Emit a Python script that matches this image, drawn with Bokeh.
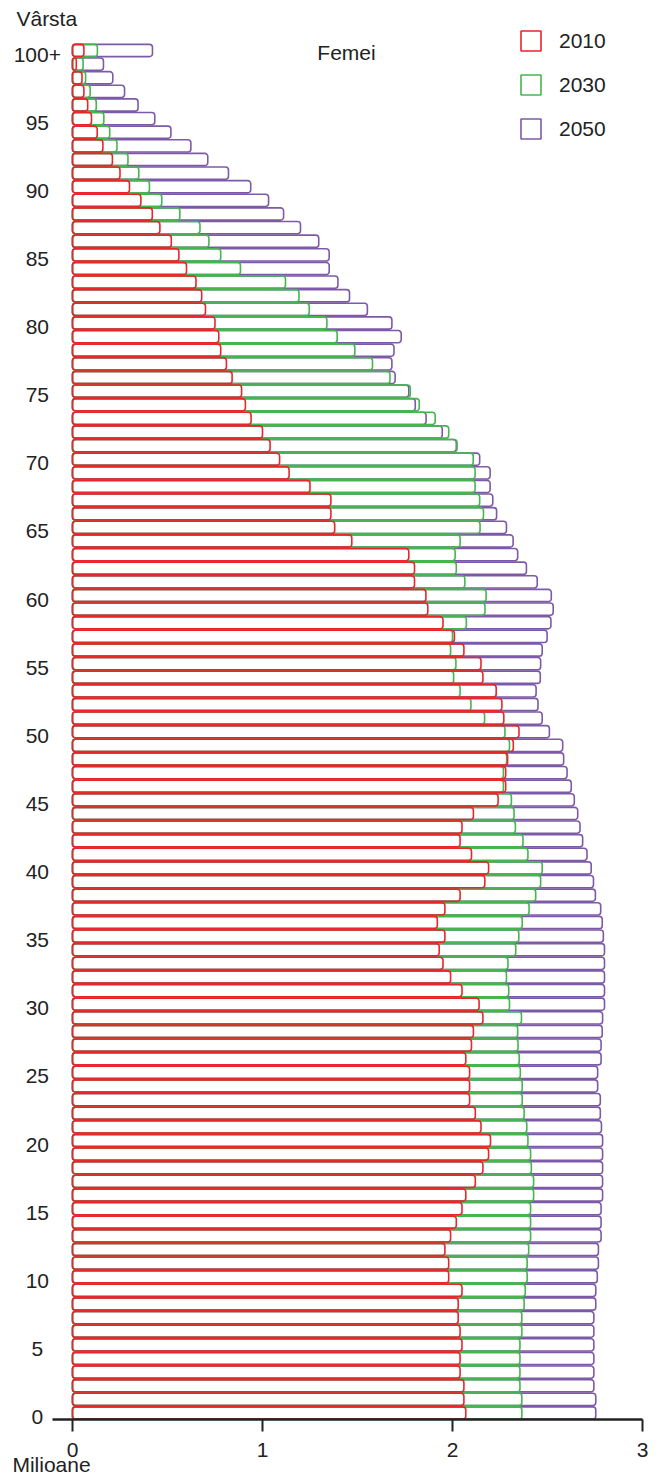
from bokeh.plotting import figure
from bokeh.models import ColumnDataSource, FixedTicker, Label, LabelSet, Range1d, Legend, LegendItem
from bokeh.core.properties import value
from bokeh.embed import file_html
from bokeh.resources import INLINE

ages = list(range(0, 101))

pop_2010 = [2.07, 2.06, 2.06, 2.04, 2.04, 2.05, 2.04, 2.03, 2.03, 2.05,
            1.98, 1.98, 1.96, 1.99, 2.02, 2.05, 2.07, 2.12, 2.16, 2.19,
            2.20, 2.15, 2.12, 2.09, 2.09, 2.09, 2.07, 2.10, 2.11, 2.16,
            2.14, 2.05, 1.99, 1.95, 1.93, 1.96, 1.92, 1.96, 2.04, 2.17,
            2.19, 2.10, 2.04, 2.05, 2.11, 2.24, 2.28, 2.28, 2.29, 2.32,
            2.35, 2.27, 2.26, 2.23, 2.16, 2.15, 2.06, 2.01, 1.95, 1.87,
            1.86, 1.80, 1.80, 1.77, 1.47, 1.38, 1.36, 1.36, 1.25, 1.14,
            1.09, 1.04, 1.00, 0.94, 0.91, 0.89, 0.84, 0.81, 0.78, 0.77,
            0.75, 0.70, 0.68, 0.65, 0.60, 0.56, 0.52, 0.46, 0.42, 0.36,
            0.30, 0.25, 0.21, 0.16, 0.13, 0.10, 0.08, 0.06, 0.05, 0.02, 0.06]

pop_2030 = [2.365, 2.365, 2.355, 2.355, 2.355, 2.355, 2.365, 2.365, 2.377, 2.383,
            2.393, 2.393, 2.401, 2.411, 2.411, 2.411, 2.427, 2.427, 2.415, 2.411,
            2.397, 2.391, 2.377, 2.367, 2.367, 2.357, 2.351, 2.345, 2.343, 2.363,
            2.300, 2.296, 2.284, 2.292, 2.333, 2.349, 2.367, 2.403, 2.438, 2.464,
            2.472, 2.397, 2.371, 2.331, 2.324, 2.310, 2.268, 2.268, 2.285, 2.300,
            2.276, 2.169, 2.097, 2.040, 2.006, 2.018, 1.990, 2.000, 2.073, 2.171,
            2.177, 2.065, 2.020, 2.014, 2.040, 2.145, 2.163, 2.143, 2.119, 2.119,
            2.109, 2.024, 1.980, 1.909, 1.825, 1.778, 1.671, 1.579, 1.486, 1.393,
            1.339, 1.246, 1.192, 1.121, 0.884, 0.780, 0.718, 0.671, 0.565, 0.470,
            0.405, 0.349, 0.292, 0.234, 0.196, 0.165, 0.125, 0.093, 0.069, 0.056, 0.131]

pop_2050 = [2.754, 2.754, 2.744, 2.744, 2.744, 2.744, 2.744, 2.744, 2.754, 2.754,
            2.762, 2.768, 2.768, 2.782, 2.782, 2.782, 2.790, 2.790, 2.790, 2.790,
            2.790, 2.784, 2.778, 2.778, 2.764, 2.764, 2.782, 2.782, 2.788, 2.790,
            2.800, 2.800, 2.800, 2.800, 2.800, 2.794, 2.788, 2.780, 2.752, 2.742,
            2.730, 2.708, 2.685, 2.671, 2.659, 2.641, 2.625, 2.603, 2.585, 2.580,
            2.510, 2.472, 2.450, 2.440, 2.462, 2.464, 2.472, 2.498, 2.518, 2.530,
            2.520, 2.446, 2.389, 2.343, 2.319, 2.284, 2.232, 2.212, 2.198, 2.198,
            2.143, 2.020, 1.946, 1.861, 1.804, 1.770, 1.698, 1.681, 1.692, 1.730,
            1.681, 1.552, 1.458, 1.397, 1.351, 1.351, 1.296, 1.200, 1.111, 1.032,
            0.938, 0.821, 0.712, 0.623, 0.518, 0.433, 0.345, 0.274, 0.212, 0.163, 0.421]

years = ["2010", "2030", "2050"]
colors = {"2010": "#e8262b", "2030": "#45b64e", "2050": "#7d5aa8"}

age_ticks = list(range(0, 101, 5))
age_tick_labels = [str(a) for a in age_ticks[:-1]] + ["100+"]

x_ticks = [0, 1, 2, 3]

FONT = "Liberation Sans"
FS = "21px"
TEXT_COLOR = "#222222"

source = ColumnDataSource(data=dict(age=ages, v2010=pop_2010, v2030=pop_2030, v2050=pop_2050))

p = figure(
    width=658, height=1478,
    x_range=Range1d(-0.3789, 3.0842), y_range=Range1d(-4.807, 103.67),
    output_backend="svg", toolbar_location=None,
    min_border_left=0, min_border_right=0, min_border_top=0, min_border_bottom=0,
)
p.outline_line_color = None
p.grid.visible = False
p.background_fill_color = "white"
p.border_fill_color = "white"

renderers = {}
for yr in ["2050", "2030", "2010"]:
    r = p.hbar(y="age", left=0, right="v" + yr, height=0.9, source=source,
               fill_color=None, line_color=colors[yr], line_width=1.6,
               border_radius=3)
    renderers[yr] = r

legend = Legend(items=[LegendItem(label=yr, renderers=[renderers[yr]]) for yr in years],
                location=(518, 1337), orientation="vertical",
                glyph_width=25, glyph_height=25, label_standoff=16, spacing=19,
                padding=0, margin=0, label_height=25,
                label_text_font=FONT, label_text_font_size=FS, label_text_color=TEXT_COLOR,
                border_line_color=None, background_fill_alpha=0)
p.add_layout(legend, "center")

# y axis labels (the reference shows no y axis line or ticks)
p.yaxis.visible = False
label_src = ColumnDataSource(data=dict(y=age_ticks, text=age_tick_labels))
p.add_layout(LabelSet(x=-0.185, y="y", text="text", source=label_src, text_align="center",
                      text_baseline="middle", y_offset=-4, text_font=value(FONT),
                      text_font_size=value(FS), text_color=TEXT_COLOR))

xa = p.xaxis[0]
xa.fixed_location = -0.45
xa.ticker = FixedTicker(ticks=x_ticks)
xa.bounds = (-0.105, 3.0)
xa.axis_line_width = 2.5
xa.axis_line_color = "#222222"
xa.major_tick_line_width = 2
xa.major_tick_line_color = "#222222"
xa.major_tick_out = 12
xa.major_tick_in = 0
xa.minor_tick_line_color = None
xa.major_label_standoff = 12
xa.major_label_text_font = FONT
xa.major_label_text_font_size = FS
xa.major_label_text_color = TEXT_COLOR

p.add_layout(Label(x=-0.295, y=102.35, text="Vârsta", text_align="left", text_baseline="middle",
                   text_font=FONT, text_font_size=FS, text_color=TEXT_COLOR))
p.add_layout(Label(x=1.442, y=99.85, text="Femei", text_align="center", text_baseline="middle",
                   text_font=FONT, text_font_size=FS, text_color=TEXT_COLOR))
p.add_layout(Label(x=-0.316, y=-3.75, text="Milioane", text_align="left", text_baseline="middle",
                   text_font=FONT, text_font_size=FS, text_color=TEXT_COLOR))

open("out.html", "w").write(file_html(p, INLINE))
